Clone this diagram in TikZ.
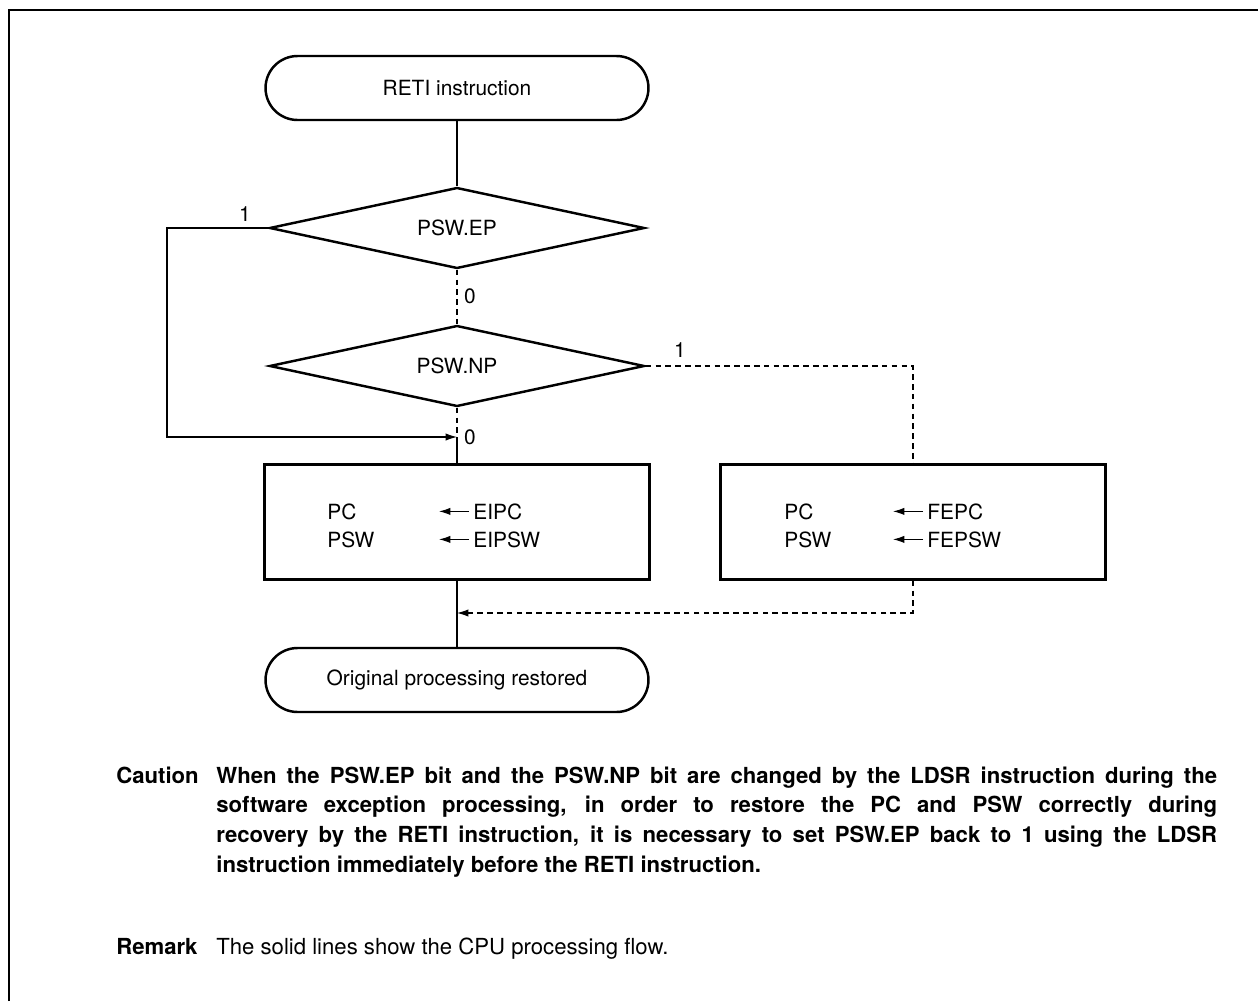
\documentclass[tikz,border=0pt]{standalone}
\usepackage{fontspec}
\setmainfont{TeX Gyre Heros}
\usepackage{tikz}
\usetikzlibrary{shapes.geometric,arrows.meta}

\tikzset{
  term/.style={draw, line width=1.4pt, rounded corners=0.64cm, minimum width=7.66cm, minimum height=1.28cm},
  decision/.style={draw, diamond, aspect=5, line width=1.4pt, inner sep=0pt, minimum width=7.5cm, minimum height=1.62cm},
  proc/.style={draw, line width=1.4pt, minimum width=7.7cm, minimum height=2.3cm},
  txt/.style={inner sep=0pt, anchor=base west},
  note/.style={txt, font=\fontsize{12.6}{17}\selectfont},
  flow/.style={line width=0.6pt},
  flowdash/.style={line width=0.6pt, dash pattern=on 3.2pt off 2.4pt},
  tip/.style={-{Latex[length=6.5pt,width=4.2pt]}}
}

\begin{document}
\begin{tikzpicture}[x=0.02cm, y=-0.02cm, font=\fontsize{11.9}{14}\selectfont]
    \useasboundingbox (0,0) rectangle (1258,1001);
    \draw[line width=1.7pt] (9,1001) -- (9,10) -- (1258,10);

    % flowchart
    \node[term] (start) at (457,88) {RETI instruction};
    \node[decision] (ep) at (457,228) {PSW.EP};
    \node[decision] (np) at (457,366) {PSW.NP};
    \node[proc] (eibox) at (457,522) {};
    \node[proc] (febox) at (913,522) {};
    \node[term] (stop) at (457,680) {Original processing restored};

    \coordinate (lft) at (167,437);
    \coordinate (j1) at (457,437);
    \coordinate (j2) at (457,613);

    \node (lb1) at (245,214) {1};
    \node (lb2) at (470,296) {0};
    \node (lb3) at (680,350) {1};
    \node (lb4) at (470,437) {0};

    \node[txt] (pc1) at (327,519) {PC};
    \node[txt] (psw1) at (327,547) {PSW};
    \node[txt] (eipc) at (473,519) {EIPC};
    \node[txt] (eipsw) at (473,547) {EIPSW};
    \node[txt] (pc2) at (784,519) {PC};
    \node[txt] (psw2) at (784,547) {PSW};
    \node[txt] (fepc) at (927,519) {FEPC};
    \node[txt] (fepsw) at (927,547) {FEPSW};

    \draw[flow,tip] (eipc.west) ++(-4,0) -- ++(-30,0);
    \draw[flow,tip] (eipsw.west) ++(-4,0) -- ++(-30,0);
    \draw[flow,tip] (fepc.west) ++(-4,0) -- ++(-30,0);
    \draw[flow,tip] (fepsw.west) ++(-4,0) -- ++(-30,0);

    \draw[flow] (start) -- (ep);
    \draw[flow,tip] (ep.west) -| (lft) -- (j1);
    \draw[flowdash] (ep) -- (np);
    \draw[flowdash] (np) -- (j1);
    \draw[flow] (j1) -- (eibox);
    \draw[flowdash] (np.east) -| (febox.north);
    \draw[flow] (eibox) -- (stop);
    \draw[flowdash,tip] (febox.south) |- (j2);

    % notes
    \node[note, font=\fontsize{12.6}{17}\selectfont\bfseries] (cau) at (116,783) {Caution};
    \node[note, text width=20.02cm, align=justify, font=\fontsize{12.6}{17}\selectfont\bfseries] (cautxt) at (216,783)
      {\hyphenpenalty=10000 When the PSW.EP bit and the PSW.NP bit are changed by the LDSR instruction during the\linebreak
       software exception processing, in order to restore the PC and PSW correctly during\linebreak
       recovery by the RETI instruction, it is necessary to set PSW.EP back to 1 using the LDSR\linebreak
       instruction immediately before the RETI instruction.};
    \node[note, font=\fontsize{12.6}{17}\selectfont\bfseries] (rem) at (116,954) {Remark};
    \node[note] (remtxt) at (216,954) {The solid lines show the CPU processing flow.};
\end{tikzpicture}
\end{document}
